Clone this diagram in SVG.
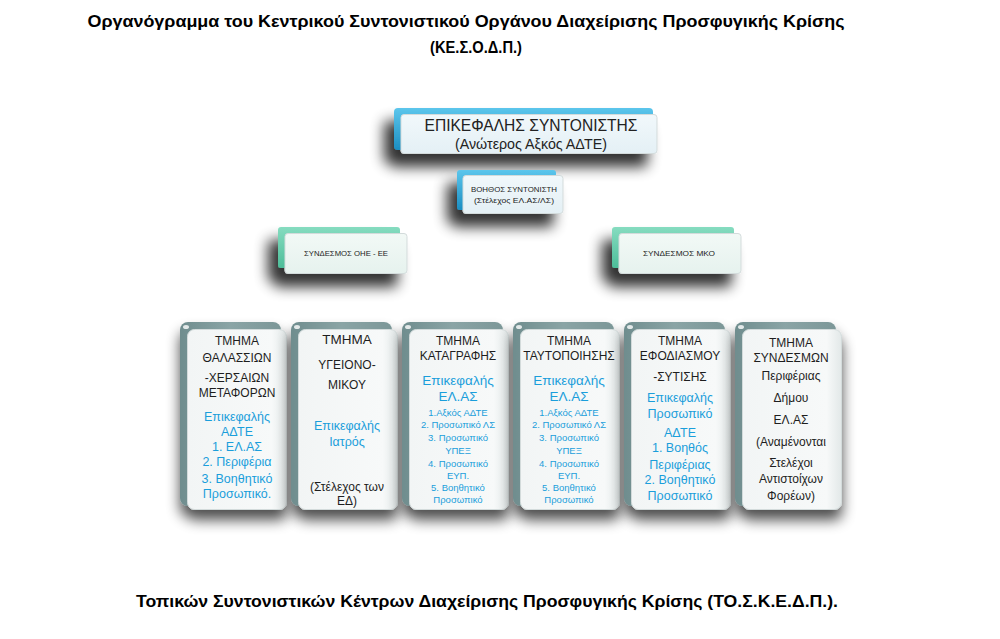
<svg xmlns="http://www.w3.org/2000/svg" width="1000" height="639" viewBox="0 0 1000 639">
<defs>
  <linearGradient id="gBlue" x1="0" y1="0" x2="0" y2="1">
    <stop offset="0" stop-color="#5cc6ec"/>
    <stop offset="1" stop-color="#1b8ec2"/>
  </linearGradient>
  <linearGradient id="gTeal" x1="0" y1="0" x2="0" y2="1">
    <stop offset="0" stop-color="#86dcc0"/>
    <stop offset="1" stop-color="#4dbd99"/>
  </linearGradient>
  <linearGradient id="gCol" x1="0" y1="0" x2="1" y2="0">
    <stop offset="0" stop-color="#6f8d8e"/>
    <stop offset="0.5" stop-color="#8aa4a5"/>
    <stop offset="1" stop-color="#7c9798"/>
  </linearGradient>
  <linearGradient id="gInB" x1="0" y1="0" x2="0" y2="1">
    <stop offset="0" stop-color="#f1f8fb"/>
    <stop offset="1" stop-color="#e4f0f5"/>
  </linearGradient>
  <linearGradient id="gInT" x1="0" y1="0" x2="0" y2="1">
    <stop offset="0" stop-color="#f2f9f6"/>
    <stop offset="1" stop-color="#e6f2ee"/>
  </linearGradient>
  <linearGradient id="gInC" x1="0" y1="0" x2="1" y2="0">
    <stop offset="0" stop-color="#f2f5f5"/>
    <stop offset="0.85" stop-color="#f7f9f9"/>
    <stop offset="1" stop-color="#e2e8e8"/>
  </linearGradient>
  <filter id="sh" x="-30%" y="-40%" width="160%" height="220%">
    <feGaussianBlur in="SourceAlpha" stdDeviation="7"/>
    <feOffset dx="-10" dy="13"/>
    <feComponentTransfer><feFuncA type="linear" slope="0.8"/></feComponentTransfer>
    <feMerge><feMergeNode/><feMergeNode in="SourceGraphic"/></feMerge>
  </filter>
  <filter id="shc" x="-30%" y="-20%" width="160%" height="140%">
    <feGaussianBlur in="SourceAlpha" stdDeviation="7"/>
    <feOffset dx="0" dy="10"/>
    <feComponentTransfer><feFuncA type="linear" slope="0.7"/></feComponentTransfer>
    <feMerge><feMergeNode/><feMergeNode in="SourceGraphic"/></feMerge>
  </filter>
</defs>
<style>
  text { font-family: "Liberation Sans", Arial, sans-serif; text-anchor: middle; }
  .title { font-size: 17px; font-weight: bold; fill: #000; }
  .bk { font-size: 12px; fill: #1e1e1e; }
  .bl { font-size: 12.5px; fill: #1a9edb; }
  .sm { font-size: 9.5px; fill: #1a9edb; }
  .tiny { font-size: 8px; fill: #222; }
  .inner { stroke: #d3dbdb; stroke-width: 1; }
</style>
<rect width="1000" height="639" fill="#ffffff"/>

<g id="title">
  <text class="title" x="466" y="27" textLength="757" lengthAdjust="spacingAndGlyphs">Οργανόγραμμα του Κεντρικού Συντονιστικού Οργάνου Διαχείρισης Προσφυγικής Κρίσης</text>
  <text class="title" x="476" y="53" textLength="92" lengthAdjust="spacingAndGlyphs">(ΚΕ.Σ.Ο.Δ.Π.)</text>
</g>

<g id="head">
  <g filter="url(#sh)">
    <rect x="394" y="108" width="259" height="42" rx="4" fill="url(#gBlue)"/>
    <rect class="inner" x="401" y="114.5" width="256" height="39" rx="3" fill="url(#gInB)"/>
  </g>
  <text x="531" y="131" style="font-size:17px;fill:#222" textLength="213" lengthAdjust="spacingAndGlyphs">ΕΠΙΚΕΦΑΛΗΣ  ΣΥΝΤΟΝΙΣΤΗΣ</text>
  <text x="531" y="149" style="font-size:14px;fill:#222" textLength="152" lengthAdjust="spacingAndGlyphs">(Ανώτερος Αξκός ΑΔΤΕ)</text>
</g>

<g id="assistant">
  <g filter="url(#sh)">
    <rect x="457" y="170" width="99" height="40" rx="3" fill="url(#gBlue)"/>
    <rect class="inner" x="463" y="175.5" width="100" height="38" rx="3" fill="url(#gInB)"/>
  </g>
  <text class="tiny" x="514" y="192" textLength="86" lengthAdjust="spacingAndGlyphs">ΒΟΗΘΟΣ ΣΥΝΤΟΝΙΣΤΗ</text>
  <text class="tiny" x="514" y="203" textLength="80" lengthAdjust="spacingAndGlyphs">(Στέλεχος ΕΛ.ΑΣ/ΛΣ)</text>
</g>

<g id="liaison-un-eu">
  <g filter="url(#sh)">
    <rect x="278" y="227" width="122" height="41" rx="3" fill="url(#gTeal)"/>
    <rect class="inner" x="285" y="233.5" width="122" height="40" rx="3" fill="url(#gInT)"/>
  </g>
  <text class="tiny" x="346" y="256" textLength="84" lengthAdjust="spacingAndGlyphs">ΣΥΝΔΕΣΜΟΣ ΟΗΕ - ΕΕ</text>
</g>

<g id="liaison-ngo">
  <g filter="url(#sh)">
    <rect x="612" y="227" width="122" height="41" rx="3" fill="url(#gTeal)"/>
    <rect class="inner" x="619" y="233.5" width="122" height="40" rx="3" fill="url(#gInT)"/>
  </g>
  <text class="tiny" x="679" y="256" textLength="72" lengthAdjust="spacingAndGlyphs">ΣΥΝΔΕΣΜΟΣ ΜΚΟ</text>
</g>

<g id="connectors"></g>

<g id="dept-transport">
  <g filter="url(#shc)">
    <rect x="180" y="322" width="101" height="184" rx="8" fill="url(#gCol)"/>
    <rect class="inner" x="187.5" y="329.5" width="99" height="180" rx="7" fill="url(#gInC)"/>
    <ellipse cx="186" cy="327" rx="3" ry="2" fill="#ffffff" opacity="0.8"/>
  </g>
  <text class="bk" x="237" y="345">ΤΜΗΜΑ</text>
  <text class="bk" x="237" y="362">ΘΑΛΑΣΣΙΩΝ</text>
  <text class="bk" x="237" y="382">-ΧΕΡΣΑΙΩΝ</text>
  <text class="bk" x="237" y="397">ΜΕΤΑΦΟΡΩΝ</text>
  <text class="bl" x="237" y="421">Επικεφαλής</text>
  <text class="bl" x="237" y="436">ΑΔΤΕ</text>
  <text class="bl" x="237" y="451">1. ΕΛ.ΑΣ</text>
  <text class="bl" x="237" y="466">2. Περιφέρια</text>
  <text class="bl" x="237" y="483">3. Βοηθητικό</text>
  <text class="bl" x="237" y="498">Προσωπικό.</text>
</g>

<g id="dept-health">
  <g filter="url(#shc)">
    <rect x="291" y="322" width="101" height="184" rx="8" fill="url(#gCol)"/>
    <rect class="inner" x="298.5" y="329.5" width="99" height="180" rx="7" fill="url(#gInC)"/>
    <ellipse cx="297" cy="327" rx="3" ry="2" fill="#ffffff" opacity="0.8"/>
  </g>
  <text class="bk" x="347" y="344" style="font-size:13.5px">ΤΜΗΜΑ</text>
  <text class="bk" x="347" y="369">ΥΓΕΙΟΝΟ-</text>
  <text class="bk" x="347" y="389">ΜΙΚΟΥ</text>
  <text class="bl" x="347" y="430">Επικεφαλής</text>
  <text class="bl" x="347" y="446">Ιατρός</text>
  <text class="bk" x="347" y="491">(Στέλεχος των</text>
  <text class="bk" x="347" y="505">ΕΔ)</text>
</g>

<g id="dept-registration">
  <g filter="url(#shc)">
    <rect x="402" y="322" width="101" height="184" rx="8" fill="url(#gCol)"/>
    <rect class="inner" x="409.5" y="329.5" width="99" height="180" rx="7" fill="url(#gInC)"/>
    <ellipse cx="408" cy="327" rx="3" ry="2" fill="#ffffff" opacity="0.8"/>
  </g>
  <text class="bk" x="458" y="345">ΤΜΗΜΑ</text>
  <text class="bk" x="458" y="360">ΚΑΤΑΓΡΑΦΗΣ</text>
  <text class="bl" x="458" y="385" style="font-size:13.5px">Επικεφαλής</text>
  <text class="bl" x="458" y="401" style="font-size:13.5px">ΕΛ.ΑΣ</text>
  <text class="sm" x="458" y="416">1.Αξκός ΑΔΤΕ</text>
  <text class="sm" x="458" y="428">2. Προσωπικό ΛΣ</text>
  <text class="sm" x="458" y="441">3. Προσωπικό</text>
  <text class="sm" x="458" y="454">ΥΠΕΞ</text>
  <text class="sm" x="458" y="467">4. Προσωπικό</text>
  <text class="sm" x="458" y="479">ΕΥΠ.</text>
  <text class="sm" x="458" y="491">5. Βοηθητικό</text>
  <text class="sm" x="458" y="503">Προσωπικό</text>
</g>

<g id="dept-identification">
  <g filter="url(#shc)">
    <rect x="513" y="322" width="101" height="184" rx="8" fill="url(#gCol)"/>
    <rect class="inner" x="520.5" y="329.5" width="99" height="180" rx="7" fill="url(#gInC)"/>
    <ellipse cx="519" cy="327" rx="3" ry="2" fill="#ffffff" opacity="0.8"/>
  </g>
  <text class="bk" x="569" y="345">ΤΜΗΜΑ</text>
  <text class="bk" x="569" y="360">ΤΑΥΤΟΠΟΙΗΣΗΣ</text>
  <text class="bl" x="569" y="385" style="font-size:13.5px">Επικεφαλής</text>
  <text class="bl" x="569" y="401" style="font-size:13.5px">ΕΛ.ΑΣ</text>
  <text class="sm" x="569" y="416">1.Αξκός ΑΔΤΕ</text>
  <text class="sm" x="569" y="428">2. Προσωπικό ΛΣ</text>
  <text class="sm" x="569" y="441">3. Προσωπικό</text>
  <text class="sm" x="569" y="454">ΥΠΕΞ</text>
  <text class="sm" x="569" y="467">4. Προσωπικό</text>
  <text class="sm" x="569" y="479">ΕΥΠ.</text>
  <text class="sm" x="569" y="491">5. Βοηθητικό</text>
  <text class="sm" x="569" y="503">Προσωπικό</text>
</g>

<g id="dept-supply">
  <g filter="url(#shc)">
    <rect x="624" y="322" width="101" height="184" rx="8" fill="url(#gCol)"/>
    <rect class="inner" x="631.5" y="329.5" width="99" height="180" rx="7" fill="url(#gInC)"/>
    <ellipse cx="630" cy="327" rx="3" ry="2" fill="#ffffff" opacity="0.8"/>
  </g>
  <text class="bk" x="680" y="345">ΤΜΗΜΑ</text>
  <text class="bk" x="680" y="360">ΕΦΟΔΙΑΣΜΟΥ</text>
  <text class="bk" x="680" y="381">-ΣΥΤΙΣΗΣ</text>
  <text class="bl" x="680" y="402">Επικεφαλής</text>
  <text class="bl" x="680" y="418">Προσωπικό</text>
  <text class="bl" x="680" y="437">ΑΔΤΕ</text>
  <text class="bl" x="680" y="452">1. Βοηθός</text>
  <text class="bl" x="680" y="469">Περιφέριας</text>
  <text class="bl" x="680" y="484">2. Βοηθητικό</text>
  <text class="bl" x="680" y="500">Προσωπικό</text>
</g>

<g id="dept-liaisons">
  <g filter="url(#shc)">
    <rect x="735" y="322" width="101" height="184" rx="8" fill="url(#gCol)"/>
    <rect class="inner" x="742.5" y="329.5" width="99" height="180" rx="7" fill="url(#gInC)"/>
    <ellipse cx="741" cy="327" rx="3" ry="2" fill="#ffffff" opacity="0.8"/>
  </g>
  <text class="bk" x="791" y="347">ΤΜΗΜΑ</text>
  <text class="bk" x="791" y="362">ΣΥΝΔΕΣΜΩΝ</text>
  <text class="bk" x="791" y="380">Περιφέριας</text>
  <text class="bk" x="791" y="402">Δήμου</text>
  <text class="bk" x="791" y="424">ΕΛ.ΑΣ</text>
  <text class="bk" x="791" y="446">(Αναμένονται</text>
  <text class="bk" x="791" y="467">Στελέχοι</text>
  <text class="bk" x="791" y="483">Αντιστοίχων</text>
  <text class="bk" x="791" y="500">Φορέων)</text>
</g>

<g id="footer">
  <text class="title" x="487" y="607" style="font-size:16px" textLength="702" lengthAdjust="spacingAndGlyphs">Τοπικών Συντονιστικών Κέντρων Διαχείρισης Προσφυγικής Κρίσης (ΤΟ.Σ.Κ.Ε.Δ.Π.).</text>
</g>
</svg>
